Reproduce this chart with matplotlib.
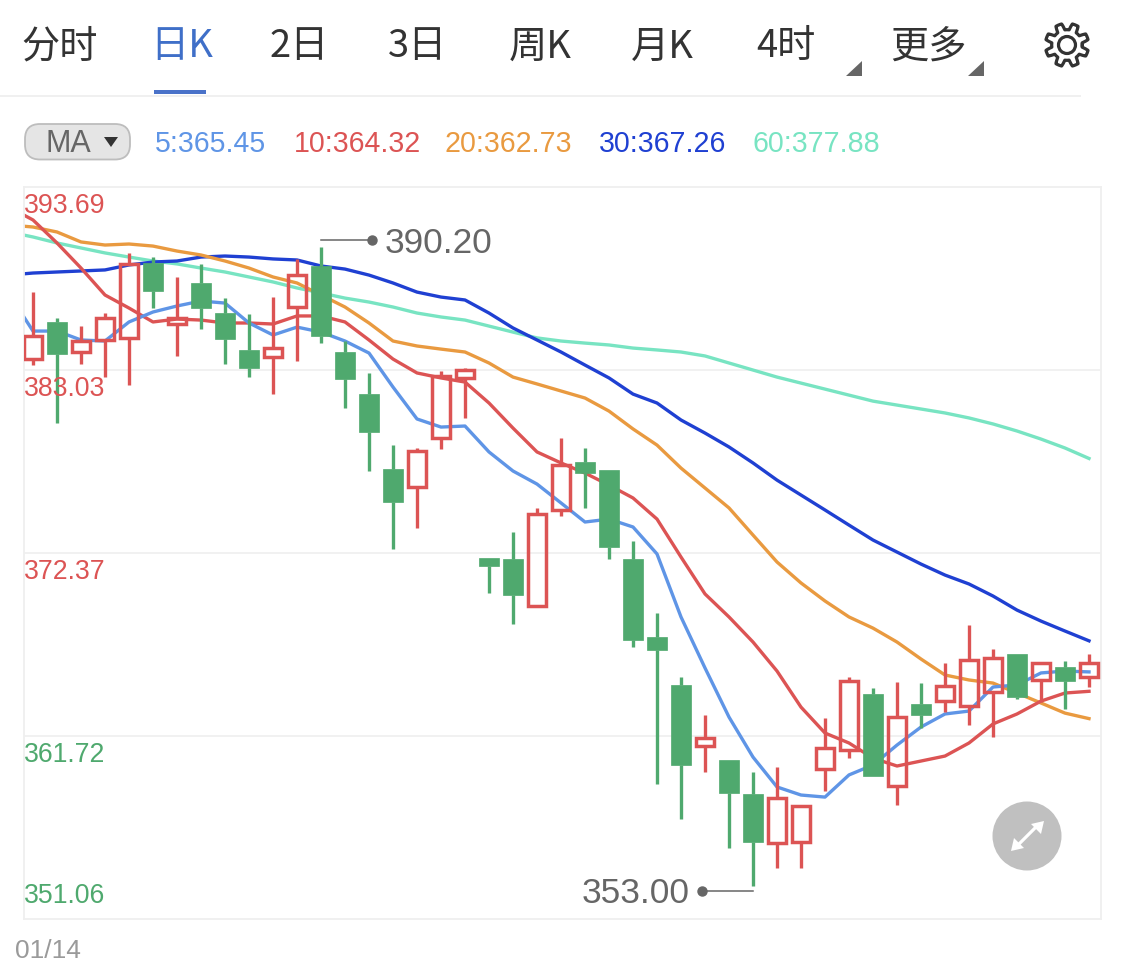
import numpy as np
import matplotlib
matplotlib.use("Agg")
import matplotlib.pyplot as plt
from matplotlib.patches import Circle, FancyBboxPatch, Polygon, Rectangle

# ---------- data ----------
tabs = ["分时", "日K", "2日", "3日", "周K", "月K", "4时", "更多"]
ma_names = ["5:365.45", "10:364.32", "20:362.73", "30:367.26", "60:377.88"]
y_labels = ["393.69", "383.03", "372.37", "361.72", "351.06"]
y_ticks = [393.69, 383.03, 372.37, 361.72, 351.06]
date_label = "01/14"
max_label = "390.20"
min_label = "353.00"

highs = [387.58, 386.06, 385.59, 386.35, 389.85, 389.61, 388.45, 389.21, 387.22, 386.29, 387.28, 389.50, 390.20, 384.72, 382.85,
         378.66, 378.49, 382.97, 383.15, 372.08, 373.60, 375.00, 379.07, 378.49, 377.21, 373.07, 368.88, 365.15, 362.94, 360.32,
         359.62, 359.91, 357.70, 362.76, 365.15, 364.51, 364.86, 364.80, 365.97, 368.18, 366.78, 366.49, 366.02, 366.08, 366.49]
opens = [383.67, 385.83, 384.08, 384.78, 384.90, 389.26, 385.71, 388.10, 386.35, 384.20, 383.79, 386.70, 389.09, 384.08, 381.63,
         377.27, 376.22, 379.07, 382.57, 372.08, 372.02, 369.29, 374.88, 377.67, 377.21, 372.02, 367.48, 364.69, 361.13, 360.32,
         358.34, 355.48, 355.54, 359.79, 360.90, 364.16, 358.80, 363.58, 363.75, 363.46, 364.28, 366.49, 364.98, 365.73, 365.15]
closes = [385.01, 383.96, 384.72, 386.06, 389.21, 387.63, 386.06, 386.64, 384.84, 383.15, 384.31, 388.56, 385.01, 382.51, 379.42,
          375.34, 378.31, 382.68, 383.03, 371.62, 369.93, 374.65, 377.50, 377.03, 372.72, 367.31, 366.72, 360.03, 361.60, 358.40,
          355.54, 358.11, 357.64, 361.02, 364.92, 359.39, 362.82, 362.94, 364.63, 366.14, 366.26, 363.99, 365.97, 364.92, 365.97]
lows = [383.33, 379.94, 383.38, 382.62, 382.16, 386.64, 383.85, 385.42, 383.38, 382.62, 381.63, 383.56, 384.60, 380.82, 377.15,
        372.61, 373.83, 378.43, 380.24, 370.05, 368.24, 369.23, 374.53, 375.00, 372.02, 366.90, 358.92, 356.88, 359.62, 355.19,
        353.00, 354.03, 354.03, 358.51, 360.43, 359.39, 357.70, 362.18, 363.11, 362.36, 361.66, 363.87, 363.70, 363.29, 364.57]

# moving averages: the first value belongs to the session before the visible window
ma5 = [387.46, 385.30, 385.30, 384.78, 384.72, 385.83, 386.41, 386.76, 387.05, 386.93, 385.77, 385.07, 385.53, 385.24, 384.72, 384.02,
       382.04, 380.18, 379.71, 379.77, 378.26, 377.15, 376.39, 375.29, 374.18, 374.35, 373.89, 372.32, 368.65, 365.68, 362.82,
       360.49, 358.75, 358.28, 358.16, 359.45, 360.03, 361.19, 362.24, 363.00, 363.17, 364.57, 364.69, 365.39, 365.50, 365.45]
ma10 = [392.52, 391.77, 390.43, 388.97, 387.40, 386.64, 385.83, 386.00, 385.94, 385.77, 385.77, 385.71, 386.18, 386.18, 385.83, 384.78,
        383.67, 382.86, 382.57, 382.33, 381.11, 379.65, 378.26, 377.62, 377.03, 376.33, 375.58, 374.35, 372.14, 369.99, 368.65,
        367.19, 365.50, 363.40, 361.89, 361.31, 360.43, 359.97, 360.26, 360.55, 361.31, 362.42, 363.00, 363.75, 364.22, 364.32]
ma20 = [391.48, 391.36, 391.07, 390.49, 390.31, 390.37, 390.25, 389.96, 389.73, 389.38, 388.97, 388.45, 388.10, 387.40, 386.70, 385.77,
        384.72, 384.43, 384.25, 384.08, 383.44, 382.62, 382.22, 381.81, 381.40, 380.64, 379.60, 378.66, 377.32, 376.16, 375.00,
        373.42, 371.85, 370.63, 369.58, 368.65, 368.00, 367.19, 366.20, 365.27, 364.98, 364.80, 364.22, 363.64, 363.05, 362.73]
ma30 = [388.56, 388.68, 388.74, 388.80, 388.86, 389.15, 389.32, 389.38, 389.61, 389.67, 389.61, 389.50, 389.44, 389.09, 388.91, 388.56,
        388.10, 387.57, 387.28, 387.11, 386.35, 385.48, 384.78, 384.08, 383.32, 382.57, 381.63, 381.11, 380.12, 379.36, 378.55,
        377.62, 376.62, 375.75, 374.88, 374.00, 373.13, 372.43, 371.73, 371.09, 370.57, 369.87, 369.05, 368.41, 367.83, 367.26]
ma60 = [391.07, 390.78, 390.43, 390.14, 389.85, 389.61, 389.38, 389.21, 388.97, 388.74, 388.45, 388.16, 387.81, 387.52, 387.22, 386.99,
        386.70, 386.35, 386.12, 385.94, 385.59, 385.24, 384.90, 384.72, 384.60, 384.49, 384.31, 384.20, 384.08, 383.85, 383.44,
        383.03, 382.62, 382.27, 381.92, 381.57, 381.22, 380.99, 380.76, 380.53, 380.24, 379.89, 379.48, 379.01, 378.49, 377.88]

# ---------- styles ----------
RED = "#dc5454"
GREEN = "#4fa96e"
MA_COLORS = ["#5f95e6", "#dc5454", "#e99a40", "#1f40d2", "#78e4c2"]
CJK = ["Noto Sans CJK SC", "DejaVu Sans"]
LATIN = "Liberation Sans"
W, H = 1125, 980

fig = plt.figure(figsize=(W / 100, H / 100), dpi=100, facecolor="white")

# ---------- price chart ----------
L, R, T, B = 24, 1101, 187, 919
ax = fig.add_axes([L / W, 1 - B / H, (R - L) / W, (B - T) / H])
n = len(closes)
idx = np.arange(n)
ax.set_xlim(-0.375, 44.5)
ax.set_ylim(351.06, 393.69)
ax.set_xticks([])
ax.set_yticks([])
for s in ax.spines.values():
    s.set_color("#efefef")
    s.set_linewidth(1.3)
for t in y_ticks[1:4]:
    ax.axhline(t, color="#f1f1f1", lw=1.4, zorder=1)

line_x = np.arange(-1, n)
for series, c in zip([ma60, ma30, ma20, ma10, ma5], MA_COLORS[::-1]):
    ax.plot(line_x, series, color=c, lw=2.4, zorder=2, solid_joinstyle="round")

o, c_, h, l = map(np.array, (opens, closes, highs, lows))
up = c_ >= o
top = np.maximum(o, c_)
bot = np.minimum(o, c_)
for mask, col in ((up, RED), (~up, GREEN)):
    ax.vlines(idx[mask], top[mask], h[mask], color=col, lw=2.4, zorder=3)
    ax.vlines(idx[mask], l[mask], bot[mask], color=col, lw=2.4, zorder=3)
ax.bar(idx[up], (top - bot)[up], bottom=bot[up], width=0.74, facecolor="none",
       edgecolor=RED, linewidth=2.5, zorder=4)
ax.bar(idx[~up], (top - bot)[~up], bottom=bot[~up], width=0.86, facecolor=GREEN,
       edgecolor=GREEN, linewidth=0.5, zorder=4)

# ---------- overlay in pixel space ----------
ov = fig.add_axes([0, 0, 1, 1], facecolor="none")
ov.set_xlim(0, W)
ov.set_ylim(H, 0)
ov.axis("off")

tab_centers = [60, 182, 299, 418, 540, 662, 786, 928]
for i, (tx, cx) in enumerate(zip(tabs, tab_centers)):
    ov.text(cx, 47, tx, family=CJK, fontsize=27.5, ha="center", va="center",
            color="#3f6fc8" if i == 1 else "#333333")
ov.add_patch(Rectangle((154, 90), 52, 4.5, color="#4a72c9", lw=0))
ov.plot([0, 1080], [96, 96], color="#f0f0f0", lw=1.4)
for x0 in (846, 968):
    ov.add_patch(Polygon([[x0, 76], [x0 + 15.5, 76], [x0 + 15.5, 61]], closed=True, color="#666666", lw=0))

# gear icon
theta = np.linspace(0, 2 * np.pi, 721)
teeth = np.clip(np.cos(8 * (theta + np.pi / 8)) * 2.4, -1, 1)
radius = 18.5 + 3.2 * teeth
ov.plot(1067 + radius * np.cos(theta), 45 + radius * np.sin(theta), color="#333333", lw=2.3)
ov.add_patch(Circle((1067, 45), 8.5, facecolor="none", edgecolor="#333333", lw=2.3))

# MA pill and legend values
ov.add_patch(FancyBboxPatch((25, 124), 105, 35.5, boxstyle="round,pad=0,rounding_size=15",
                            facecolor="#e5e5e5", edgecolor="#bdbdbd", lw=1.3))
ov.text(68.5, 143.5, "MA", family=LATIN, fontsize=22, ha="center", va="center", color="#666666")
ov.add_patch(Polygon([[104, 137], [118, 137], [111, 147]], closed=True, color="#333333", lw=0))
for tx, cx, col in zip(ma_names, [155, 294, 445, 599, 752], MA_COLORS):
    ov.text(cx, 144, tx, family=LATIN, fontsize=20.6, ha="left", va="center", color=col)

# axis labels
for tx, yy, col in zip(y_labels, [206, 389, 572, 755, 896], [RED, RED, RED, GREEN, GREEN]):
    ov.text(24, yy, tx, family=LATIN, fontsize=19.2, ha="left", va="center", color=col)
ov.text(15, 951, date_label, family=LATIN, fontsize=19, ha="left", va="center", color="#9a9a9a")

# extreme markers
ov.plot([321, 372], [240, 240], color="#666666", lw=1.1)
ov.plot([372], [240], "o", color="#666666", ms=6.5)
ov.text(385, 243, max_label, family=LATIN, fontsize=25.4, ha="left", va="center", color="#666666")
ov.plot([702, 753], [891, 891], color="#666666", lw=1.1)
ov.plot([702], [891], "o", color="#666666", ms=6.5)
ov.text(690, 893, min_label, family=LATIN, fontsize=25.4, ha="right", va="center", color="#666666")

# fullscreen button
ov.add_patch(Circle((1027, 836), 34.5, color="#c0c0c0", lw=0))
ov.plot([1019, 1035], [844, 828], color="white", lw=2.3)
ov.add_patch(Polygon([[1044, 821], [1031, 824], [1041, 834]], closed=True, color="white", lw=0))
ov.add_patch(Polygon([[1011, 851], [1024, 848], [1014, 838]], closed=True, color="white", lw=0))

fig.savefig("out.png", dpi=100, facecolor="white")
